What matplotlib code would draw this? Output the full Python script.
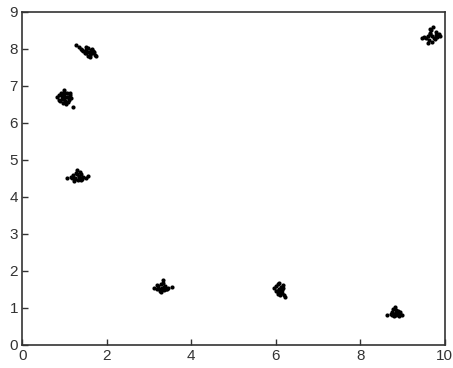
import matplotlib
matplotlib.use("Agg")
import matplotlib.pyplot as plt

# 聚类点坐标
xa = [0.82, 0.88, 0.92, 0.95, 0.98, 1.0, 1.02, 1.05, 1.08, 1.1, 1.12, 1.15, 0.9, 0.96, 1.0, 1.04, 1.08, 0.94, 1.0, 1.06, 1.2, 0.86, 1.12, 1.0]
ya = [6.7, 6.75, 6.82, 6.65, 6.85, 6.72, 6.6, 6.8, 6.7, 6.62, 6.75, 6.68, 6.6, 6.55, 6.78, 6.5, 6.58, 6.72, 6.65, 6.7, 6.42, 6.62, 6.8, 6.88]

xb = [1.28, 1.35, 1.4, 1.45, 1.5, 1.52, 1.55, 1.58, 1.6, 1.62, 1.65, 1.68, 1.72, 1.75, 1.48, 1.56, 1.64, 1.42, 1.7, 1.6, 1.52]
yb = [8.12, 8.05, 8.0, 7.95, 7.98, 7.88, 8.02, 7.92, 7.85, 7.98, 7.9, 7.95, 7.85, 7.82, 7.9, 7.8, 8.0, 7.98, 7.92, 7.78, 8.05]

xc = [1.05, 1.15, 1.2, 1.25, 1.28, 1.3, 1.32, 1.35, 1.38, 1.4, 1.42, 1.45, 1.5, 1.55, 1.22, 1.3, 1.36, 1.26, 1.34, 1.4, 1.18]
yc = [4.5, 4.55, 4.6, 4.5, 4.65, 4.72, 4.45, 4.58, 4.52, 4.62, 4.48, 4.55, 4.5, 4.58, 4.42, 4.62, 4.68, 4.48, 4.55, 4.45, 4.52]

xd = [3.12, 3.18, 3.22, 3.25, 3.28, 3.3, 3.32, 3.35, 3.38, 3.4, 3.45, 3.55, 3.26, 3.34, 3.3, 3.2, 3.36, 3.28, 3.42]
yd = [1.55, 1.5, 1.6, 1.52, 1.65, 1.55, 1.75, 1.48, 1.6, 1.52, 1.55, 1.56, 1.45, 1.68, 1.5, 1.62, 1.58, 1.42, 1.5]

xe = [5.95, 6.0, 6.02, 6.05, 6.08, 6.1, 6.12, 6.15, 6.18, 6.2, 6.22, 6.05, 6.12, 6.08, 6.15, 6.0, 6.18, 6.1]
ye = [1.55, 1.6, 1.45, 1.65, 1.5, 1.42, 1.58, 1.48, 1.62, 1.35, 1.3, 1.38, 1.52, 1.68, 1.4, 1.45, 1.55, 1.35]

xf = [8.62, 8.72, 8.75, 8.78, 8.8, 8.82, 8.85, 8.88, 8.9, 8.92, 8.95, 8.98, 8.8, 8.85, 8.76, 8.9, 8.84, 8.94]
yf = [0.82, 0.85, 0.9, 0.98, 0.85, 1.02, 0.8, 0.9, 0.85, 0.78, 0.88, 0.82, 0.78, 0.95, 0.8, 0.92, 0.88, 0.85]

xg = [9.45, 9.5, 9.55, 9.6, 9.62, 9.65, 9.68, 9.7, 9.72, 9.75, 9.78, 9.8, 9.85, 9.88, 9.6, 9.7, 9.76, 9.66, 9.82, 9.64]
yg = [8.3, 8.32, 8.3, 8.35, 8.25, 8.4, 8.5, 8.35, 8.6, 8.3, 8.45, 8.38, 8.4, 8.35, 8.15, 8.2, 8.28, 8.55, 8.32, 8.42]

xs = [xa, xb, xc, xd, xe, xf, xg]
ys = [ya, yb, yc, yd, ye, yf, yg]

plt.rcParams['font.family'] = ['Liberation Sans', 'DejaVu Sans']

fig = plt.figure(figsize=(4.53, 3.68), dpi=100)
ax = fig.add_axes([0.049, 0.0625, 0.933, 0.905])

# 每个聚类画点
for x, y in zip(xs, ys):
    ax.scatter(x, y, s=9, color='black', linewidths=0)

ax.set_xlim(0, 10)
ax.set_ylim(0, 9)
ax.set_xticks(range(0, 11, 2))
ax.set_yticks(range(0, 10))
ax.tick_params(direction='in', length=4, width=1, colors='#333333',
               labelsize=11, top=False, right=False, pad=3)
for sp in ax.spines.values():
    sp.set_color('#333333')
    sp.set_linewidth(1.2)

fig.savefig('out.png', dpi=100)
